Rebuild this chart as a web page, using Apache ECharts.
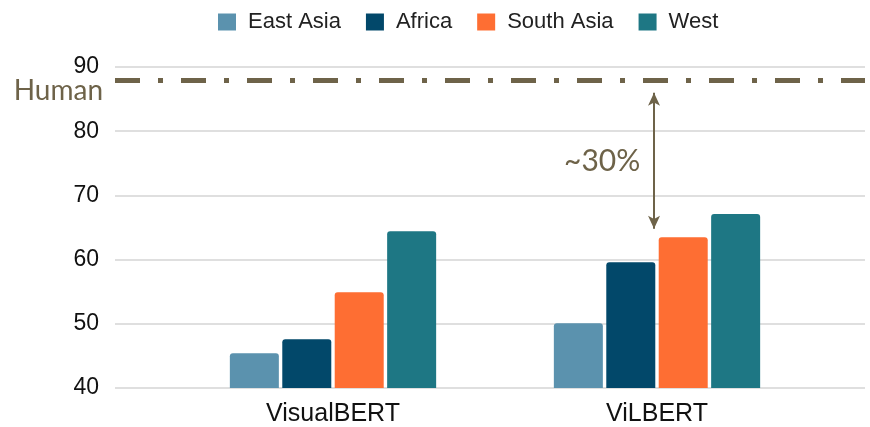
<!DOCTYPE html>
<html>
<head>
    <meta charset="utf-8">
    <title>Human vs model</title>
    <script src="https://cdn.jsdelivr.net/npm/echarts@6/dist/echarts.min.js"></script>
    <style>
        html, body { margin: 0; padding: 0; background: #fff; }
        #main { width: 870px; height: 427px; }
    </style>
</head>
<body>
    <div id="main"></div>
    <script>
        // data
        var models = ['VisualBERT', 'ViLBERT'];
        var regions = ['East Asia', 'Africa', 'South Asia', 'West'];
        var eastAsia = [45.4, 50.1];
        var africa = [47.6, 59.6];
        var southAsia = [54.9, 63.5];
        var west = [64.4, 67.1];
        var humanScore = 88;
        var gapTop = 86;      // arrow ends
        var gapBottom = 64.8;
        var colors = ['#5b92ae', '#02486a', '#fe6e33', '#1e7784'];
        var brown = '#6e6349';

        var values = [eastAsia, africa, southAsia, west];

        var myChart = echarts.init(document.getElementById('main'));

        var barSeries = regions.map(function (name, i) {
            return {
                name: name,
                type: 'bar',
                xAxisIndex: 1,
                yAxisIndex: 1,
                barWidth: 49,
                barGap: '7%',
                itemStyle: { color: colors[i], borderRadius: [3, 3, 0, 0] },
                data: values[i]
            };
        });

        option = {
            animation: false,
            legend: {
                top: 6,
                left: 213,
                itemWidth: 18,
                itemHeight: 17,
                itemGap: 25,
                icon: 'rect',
                textStyle: { fontFamily: 'Liberation Sans', fontSize: 22, color: '#222', padding: [0, 0, 0, 7] },
                data: regions
            },
            grid: [
                { left: 115, right: 5, top: 67, bottom: 39 },
                { left: 171, right: 51, top: 67, bottom: 39 }
            ],
            xAxis: [
                { type: 'value', gridIndex: 0, min: 0, max: 1, show: false },
                {
                    type: 'category',
                    gridIndex: 1,
                    data: models,
                    axisLine: { show: false },
                    axisTick: { show: false },
                    axisLabel: { fontFamily: 'Liberation Sans', fontSize: 25, color: '#111', margin: 14 }
                }
            ],
            yAxis: [
                {
                    type: 'value',
                    gridIndex: 0,
                    min: 40,
                    max: 90,
                    interval: 10,
                    axisLine: { show: false },
                    axisTick: { show: false },
                    axisLabel: { fontFamily: 'Liberation Sans', fontSize: 23, color: '#111', margin: 16 },
                    splitLine: { lineStyle: { color: '#d4d4d4', width: 1.5 } }
                },
                { type: 'value', gridIndex: 1, min: 40, max: 90, interval: 10, show: false }
            ],
            series: [{
                type: 'line',
                xAxisIndex: 0,
                yAxisIndex: 0,
                data: [],
                markLine: {
                    silent: true,
                    symbol: 'none',
                    label: { show: false },
                    data: [
                        {
                            yAxis: humanScore,
                            lineStyle: { color: brown, width: 5, type: [25, 18, 5, 18], cap: 'butt' }
                        },
                        [
                            { coord: [0.7187, gapTop], symbol: 'arrow', symbolSize: [9, 13],
                              lineStyle: { color: brown, width: 2, type: 'solid' } },
                            { coord: [0.7187, gapBottom], symbol: 'arrow', symbolSize: [9, 13] }
                        ]
                    ]
                }
            }].concat(barSeries),
            graphic: [
                {
                    type: 'text',
                    right: 767,
                    top: 77,
                    style: { text: 'Human', fontFamily: 'Lato', fontSize: 28, fill: brown }
                },
                {
                    type: 'text',
                    left: 564,
                    top: 146,
                    style: { text: '~30%', fontFamily: 'Lato', fontSize: 30, fill: brown }
                }
            ]
        };
        myChart.setOption(option);
    </script>
</body>
</html>
